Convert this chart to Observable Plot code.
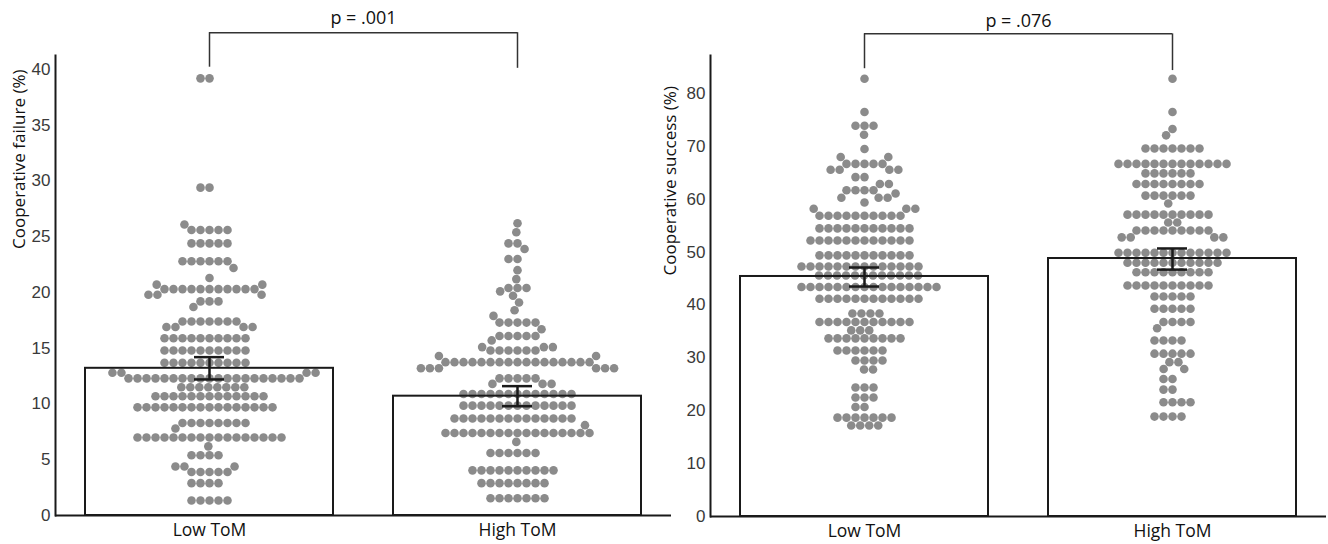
<!DOCTYPE html>
<html><head><meta charset="utf-8">
<script src="https://cdn.jsdelivr.net/npm/d3@7"></script>
<script src="https://cdn.jsdelivr.net/npm/@observablehq/plot@0.6"></script>
<style>
html,body{margin:0;padding:0;background:#fff;}
#wrap{position:relative;width:1328px;height:544px;overflow:hidden;background:#fff;}
#left{position:absolute;left:0;top:0;}
#right{position:absolute;left:656px;top:0;}
</style></head><body><div id="wrap"><div id="left"></div><div id="right"></div></div>
<script>
const groups = ["Low ToM", "High ToM"];

// Panel A — Cooperative failure (%): dot rows (value, number of participants)
const failLowLevels  = [39.2, 29.4, 26.1, 25.6, 24.4, 22.8, 22.2, 21.3, 20.7, 20.3, 19.8, 19.2, 18.7, 17.4, 16.9, 15.9, 14.8, 13.7, 12.8, 12.3, 11.5, 10.7, 9.7, 8.3, 7.8, 7.0, 6.2, 5.4, 4.4, 3.9, 2.9, 1.35];
const failLowCounts  = [2, 2, 1, 5, 5, 6, 1, 1, 2, 11, 3, 3, 1, 7, 4, 10, 10, 10, 4, 20, 8, 13, 16, 8, 1, 17, 1, 4, 3, 5, 4, 5];
const failHighLevels = [26.2, 25.4, 24.4, 23.9, 23.0, 22.0, 21.2, 20.4, 20.1, 19.7, 19.1, 18.4, 17.9, 17.3, 16.7, 16.1, 15.7, 15.1, 14.8, 14.3, 13.75, 13.2, 12.3, 11.8, 10.9, 9.85, 8.7, 8.1, 7.4, 6.6, 5.6, 4.05, 2.9, 1.55];
const failHighCounts = [1, 1, 2, 1, 2, 1, 1, 3, 1, 1, 1, 1, 1, 5, 1, 5, 1, 3, 6, 2, 17, 6, 5, 3, 13, 13, 14, 1, 17, 1, 6, 10, 8, 7];
const failMeans = [13.2, 10.7];
const failLow   = [12.2, 9.8];
const failHigh  = [14.2, 11.6];
const failTicks = [0, 5, 10, 15, 20, 25, 30, 35, 40];
const failP = "p = .001";

// Panel B — Cooperative success (%)
const succLowLevels  = [82.8, 76.5, 73.9, 72.2, 69.5, 68.0, 66.7, 65.6, 64.2, 62.9, 61.7, 61.1, 60.3, 59.4, 58.2, 56.9, 54.5, 52.2, 49.4, 47.3, 45.6, 43.4, 41.2, 38.4, 36.8, 35.2, 33.7, 31.4, 29.5, 27.8, 24.4, 22.5, 20.7, 18.7, 17.2];
const succLowCounts  = [1, 1, 3, 1, 1, 2, 5, 4, 2, 2, 4, 1, 3, 1, 3, 10, 11, 12, 11, 14, 12, 16, 12, 4, 11, 3, 9, 6, 4, 2, 3, 3, 2, 7, 4];
const succHighLevels = [82.8, 76.5, 73.3, 72.1, 69.6, 66.7, 64.9, 62.9, 60.7, 59.2, 57.1, 55.6, 54.1, 52.8, 49.9, 48.0, 46.2, 43.7, 41.6, 39.3, 36.8, 35.6, 33.3, 30.8, 29.2, 27.9, 26.0, 24.0, 21.6, 18.9];
const succHighCounts = [1, 1, 1, 1, 7, 13, 6, 8, 6, 1, 10, 2, 9, 4, 13, 11, 9, 10, 5, 5, 4, 1, 4, 5, 2, 2, 2, 2, 4, 4];
const succMeans = [45.4, 48.8];
const succLow   = [43.5, 46.7];
const succHigh  = [47.1, 50.7];
const succTicks = [0, 10, 20, 30, 40, 50, 60, 70, 80];
const succP = "p = .076";

// expand rows into individual participants; the largest rows are placed first so the swarm stays compact
function expand(levels, counts, group) {
  const rows = levels.map((v, i) => ({v, n: counts[i]})).sort((a, b) => b.n - a.n);
  const out = [];
  rows.forEach(({v, n}) => { for (let k = 0; k < n; k++) out.push({group, value: v}); });
  return out;
}

function panel(o) {
  const stats = groups.map((g, i) => ({group: g, mean: o.means[i], lo: o.lo[i], hi: o.hi[i], end: o.bracketEnds[i], top: o.bracketTop, pY: o.pY, p: o.p}));
  const labelRow = [{group: groups[0], label: o.yLabel, y: o.labelY}];
  const ink = "#1a1a1a";
  return Plot.plot({
    width: 672, height: 544,
    marginLeft: o.marginLeft, marginRight: o.marginRight, marginTop: 55, marginBottom: o.marginBottom,
    style: {background: "transparent", fontFamily: "'Liberation Sans', Arial, sans-serif", overflow: "visible"},
    fx: {domain: groups, padding: 0},
    y: {domain: [0, o.yMax]},
    marks: [
      Plot.dot(o.points, Plot.dodgeX({anchor: "middle", padding: 0.4}, {fx: "group", y: "value", r: 4.3, fill: "#8b8b8b"})),
      Plot.barY(stats, {fx: "group", y: "mean", fill: "none", stroke: ink, strokeWidth: 2, insetLeft: 30, insetRight: 30}),
      Plot.ruleX(stats, {fx: "group", x: null, y1: "lo", y2: "hi", stroke: ink, strokeWidth: 2.5}),
      Plot.ruleY(stats, {fx: "group", y: "hi", insetLeft: 139, insetRight: 139, stroke: ink, strokeWidth: 2.5}),
      Plot.ruleY(stats, {fx: "group", y: "lo", insetLeft: 139, insetRight: 139, stroke: ink, strokeWidth: 2.5}),
      Plot.ruleX(stats, {fx: "group", x: null, y1: "end", y2: "top", stroke: "#333", strokeWidth: 1.5}),
      Plot.ruleY(stats.slice(0, 1), {fx: "group", y: "top", insetLeft: 154, stroke: "#333", strokeWidth: 1.5}),
      Plot.ruleY(stats.slice(1), {fx: "group", y: "top", insetRight: 154, stroke: "#333", strokeWidth: 1.5}),
      Plot.text(stats.slice(0, 1), {fx: "group", y: "pY", text: "p", frameAnchor: "right", textAnchor: "middle", fontFamily: "'Open Sans', sans-serif", fontSize: 18, fill: "#111"}),
      Plot.ruleY([0], {stroke: ink, strokeWidth: 2}),
      Plot.frame({anchor: "left", facetAnchor: "left", stroke: ink, strokeWidth: 2}),
      Plot.axisY({ticks: o.ticks, tickSize: 0, tickPadding: 5, fontSize: 17, label: null, fill: "#3a3a3a"}),
      Plot.axisFx({anchor: "bottom", tickSize: 0, tickPadding: 8, fontSize: 17.5, fontFamily: "'Open Sans', sans-serif", label: null, fill: "#111"}),
      Plot.text(labelRow, {fx: "group", y: "y", text: "label", frameAnchor: "left", rotate: -90, dx: o.labelDx, fontFamily: "'Open Sans', sans-serif", fontSize: 17, fill: "#111"})
    ]
  });
}

const failPoints = [...expand(failLowLevels, failLowCounts, groups[0]), ...expand(failHighLevels, failHighCounts, groups[1])];
const succPoints = [...expand(succLowLevels, succLowCounts, groups[0]), ...expand(succHighLevels, succHighCounts, groups[1])];

document.getElementById("left").append(panel({
  points: failPoints, means: failMeans, lo: failLow, hi: failHigh, ticks: failTicks,
  yMax: 41.25, marginLeft: 55, marginRight: 1, marginBottom: 29,
  bracketTop: 43.3, bracketEnds: [40.2, 40.1], pY: 44.6, p: failP,
  yLabel: "Cooperative failure (%)", labelY: 23.9, labelDx: -36
}));
document.getElementById("right").append(panel({
  points: succPoints, means: succMeans, lo: succLow, hi: succHigh, ticks: succTicks,
  yMax: 87.2, marginLeft: 54, marginRight: 2, marginBottom: 28,
  bracketTop: 91.3, bracketEnds: [84.7, 84.35], pY: 93.6, p: succP,
  yLabel: "Cooperative success (%)", labelY: 45.6, labelDx: -40
}));
</script></body></html>
